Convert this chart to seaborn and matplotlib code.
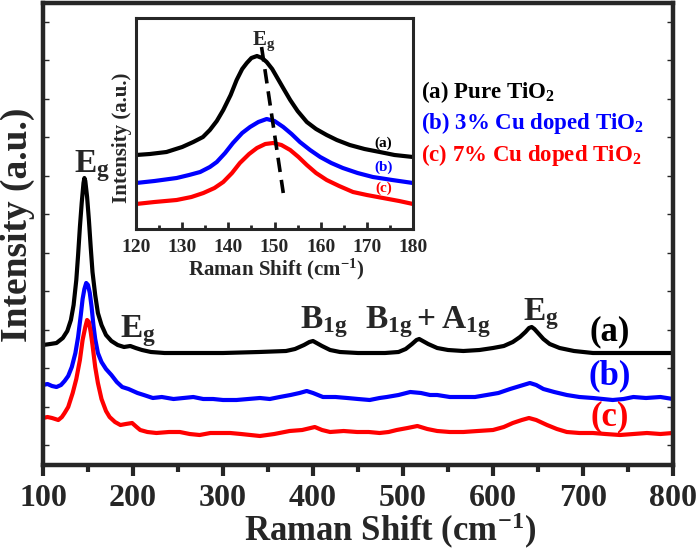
import seaborn as sns
import matplotlib.pyplot as plt
import pandas as pd

sns.set_style("ticks")
plt.rcParams['font.family'] = ['Liberation Serif', 'DejaVu Serif']
plt.rcParams['font.weight'] = 'bold'
plt.rcParams['mathtext.fontset'] = 'custom'
plt.rcParams['mathtext.rm'] = 'Liberation Serif:bold'
plt.rcParams['mathtext.bf'] = 'Liberation Serif:bold'
plt.rcParams['mathtext.it'] = 'Liberation Serif:bold:italic'

# main spectra (a) pure, (b) 3% Cu, (c) 7% Cu
x_a = [100, 108, 115, 122, 127, 131, 134, 137, 139, 141, 143, 145, 146, 147, 149, 151, 153, 155, 158, 161,
       165, 170, 176, 183, 190, 197, 203, 210, 220, 235, 260, 300, 340, 370, 380, 390, 396, 400, 404, 410,
       419, 430, 450, 480, 495, 503, 510, 515, 518, 522, 528, 538, 550, 567, 585, 600, 612, 622, 630, 636,
       640, 643, 646, 650, 656, 663, 674, 690, 711, 740, 770, 800]
y_a = [120, 121, 122, 127, 134, 145, 160, 185, 210, 238, 262, 282, 287, 284, 268, 245, 218, 193, 170, 152,
       140, 130, 124, 120, 118, 119, 117, 115, 113, 112, 112, 112, 113, 114, 116, 120, 123, 124, 122, 119,
       115, 113, 112, 112, 113, 116, 121, 125, 126, 124, 121, 117, 115, 114, 115, 117, 119, 123, 128, 133,
       137, 138, 136, 132, 126, 121, 117, 114, 112, 112, 112, 112]

x_b = [100, 105, 110, 115, 120, 124, 128, 132, 136, 139, 142, 144, 146, 148, 150, 152, 154, 156, 158, 161,
       165, 170, 176, 182, 188, 195, 200, 205, 212, 222, 232, 245, 256, 267, 278, 289, 300, 315, 328, 341,
       352, 363, 375, 385, 393, 400, 411, 425, 438, 450, 463, 474, 482, 495, 508, 520, 530, 538, 552, 567,
       580, 593, 606, 619, 630, 641, 648, 656, 668, 682, 696, 711, 722, 733, 745, 756, 770, 786, 800]
y_b = [80, 81, 79, 78, 80, 84, 89, 98, 112, 128, 150, 166, 176, 182, 180, 172, 158, 140, 126, 112,
       103, 96, 90, 83, 78, 76, 74, 72, 70, 67, 68, 66, 67, 68, 66, 66, 65, 65, 66, 67,
       66, 68, 70, 72, 74, 72, 68, 68, 67, 66, 65, 67, 68, 70, 73, 72, 70, 70, 68, 68,
       68, 70, 72, 76, 79, 82, 80, 76, 73, 70, 68, 67, 66, 65, 66, 68, 67, 68, 66]

x_c = [100, 105, 110, 117, 121, 124, 128, 133, 137, 141, 144, 147, 149, 151, 153, 155, 158, 161, 165, 170,
       174, 180, 186, 192, 199, 204, 208, 216, 226, 240, 252, 263, 274, 286, 297, 308, 320, 341, 357, 374,
       388, 402, 410, 419, 434, 449, 462, 474, 484, 493, 505, 516, 527, 538, 552, 567, 583, 600, 612, 622,
       632, 640, 648, 660, 671, 682, 696, 711, 725, 741, 756, 771, 786, 800]
y_c = [47, 48, 47, 45, 48, 52, 58, 72, 86, 105, 125, 138, 145, 143, 133, 120, 98, 82, 66, 54,
       48, 43, 40, 41, 42, 38, 35, 33, 32, 33, 33, 31, 30, 32, 32, 32, 31, 29, 31, 34,
       35, 38, 35, 33, 34, 33, 33, 32, 33, 35, 37, 39, 36, 34, 33, 33, 34, 35, 38, 42,
       45, 47, 45, 40, 36, 33, 32, 32, 31, 30, 31, 32, 31, 32]

# inset (zoom on the Eg peak)
xi_a = [120, 123, 126.6, 130, 132.4, 134.5, 136, 137.5, 138.9, 140.5, 141.8, 143, 144, 145, 146.2, 147.3,
        148.3, 149.5, 150.5, 152, 153.4, 155, 157, 159, 161.3, 163.5, 166.3, 169.5, 172.8, 176, 180]
yi_a = [74, 75, 77, 82, 87, 92, 99, 108, 119, 134, 149, 160, 166, 171, 173, 171,
        167, 160, 152, 140, 129, 118, 107, 100, 94, 89, 84, 80, 77, 74, 72]
xi_b = [120, 124, 128.8, 131.5, 133.9, 136, 137.5, 139.3, 141, 143, 144.7, 146.5, 148.3, 150, 151.9,
        153.7, 155.5, 157.7, 159.9, 162.3, 164.8, 168, 171.3, 175.5, 180]
yi_b = [46, 48, 51, 54, 57, 62, 67, 76, 86, 96, 102, 107, 110, 108, 102,
        95, 87, 79, 72, 66, 61, 56, 52, 49, 46]
xi_c = [120, 124, 128.8, 132, 134.6, 137, 138.9, 140.8, 142.5, 144.5, 146.2, 148, 149.7, 151.5, 153.4,
        155.2, 157, 159, 161.3, 164, 167, 170, 173.5, 177, 180]
yi_c = [25, 27, 29, 32, 36, 41, 47, 56, 66, 75, 81, 85, 86, 84, 79,
        72, 64, 56, 49, 43, 37, 34, 31, 28, 25]
shift_x = [147.2, 151.9]
shift_y = [182, 36]

colors = ["black", "blue", "red"]
legend_text = [r"(a) Pure TiO$_\mathbf{2}$", r"(b) 3% Cu doped TiO$_\mathbf{2}$",
               r"(c) 7% Cu doped TiO$_\mathbf{2}$"]

fig = plt.figure(figsize=(7, 5.55), dpi=100)
ax = fig.add_axes([43 / 700, 90 / 555, 630 / 700, 462 / 555])

for xs, ys, c in zip([x_a, x_b, x_c], [y_a, y_b, y_c], colors):
    df = pd.DataFrame({"x": xs, "y": ys})
    sns.lineplot(data=df, x="x", y="y", color=c, lw=3, estimator=None, ax=ax)

ax.set_xlim(100, 800)
ax.set_ylim(0, 462)
ax.set_xticks(range(100, 801, 100))
ax.set_xticks(range(150, 800, 100), minor=True)
ax.set_yticks([20 + 38.5 * k for k in range(12)])
ax.set_yticklabels([])
ax.tick_params(axis="x", which="major", direction="out", length=8, width=3, labelsize=23, pad=6)
ax.tick_params(axis="x", which="minor", direction="out", length=5, width=3)
ax.tick_params(axis="y", direction="in", length=4, width=1, left=True, right=True)
for s in ax.spines.values():
    s.set_linewidth(3.2)
ax.set_xlabel("Raman Shift (cm$^{\\mathbf{-1}}$)", fontsize=25, fontweight="bold")
ax.set_ylabel("Intensity (a.u.)", fontsize=27, fontweight="bold")
ax.xaxis.set_label_coords(0.551, -0.1)
ax.yaxis.set_label_coords(-0.012, 0.52)

# peak labels
ax.text(135, 293, r"$\mathbf{E_g}$", fontsize=24)
ax.text(185, 128, r"$\mathbf{E_g}$", fontsize=24)
ax.text(385, 137, r"$\mathbf{B_{1g}}$", fontsize=24)
ax.text(458, 137, r"$\mathbf{B_{1g}+A_{1g}}$", fontsize=24)
ax.text(633, 145, r"$\mathbf{E_g}$", fontsize=24)
for lab, yy, c in zip(["(a)", "(b)", "(c)"], [133, 89, 48], colors):
    ax.text(730, yy, lab, fontsize=25, color=c, ha="center", va="center", fontweight="bold")

for t, yy, c in zip(legend_text, [98, 129, 161], colors):
    fig.text(421 / 700, 1 - yy / 555, t, fontsize=16.5, color=c, fontweight="bold")

# inset
ins = fig.add_axes([136 / 700, 326 / 555, 277 / 700, 211 / 555])
for xs, ys, c in zip([xi_a, xi_b, xi_c], [yi_a, yi_b, yi_c], colors):
    df = pd.DataFrame({"x": xs, "y": ys})
    sns.lineplot(data=df, x="x", y="y", color=c, lw=3, estimator=None, ax=ins)
ins.plot(shift_x, shift_y, color="black", lw=2.6, linestyle=(0, (4, 2.2)))
ins.set_xlim(120, 180)
ins.set_ylim(0, 211)
ins.set_xticks(range(120, 181, 10))
ins.set_xticks(range(125, 180, 10), minor=True)
ins.set_yticks([])
ins.tick_params(axis="x", which="major", direction="in", length=5, width=2, labelsize=14, pad=7)
ins.tick_params(axis="x", which="minor", direction="in", length=3, width=2)
for s in ins.spines.values():
    s.set_linewidth(2.2)
ins.set_xlabel("Raman Shift (cm$^{\\mathbf{-1}}$)", fontsize=15, fontweight="bold")
ins.set_ylabel("Intensity (a.u.)", fontsize=15, fontweight="bold")
ins.xaxis.set_label_coords(0.505, -0.13)
ins.yaxis.set_label_coords(-0.015, 0.43)
ins.text(145.2, 184, r"$\mathbf{E_g}$", fontsize=15)
for lab, yy, c in zip(["(a)", "(b)", "(c)"], [86, 62, 41], colors):
    ins.text(173.6, yy, lab, fontsize=11, color=c, ha="center", va="center", fontweight="bold")

fig.savefig("out.png", dpi=100)
